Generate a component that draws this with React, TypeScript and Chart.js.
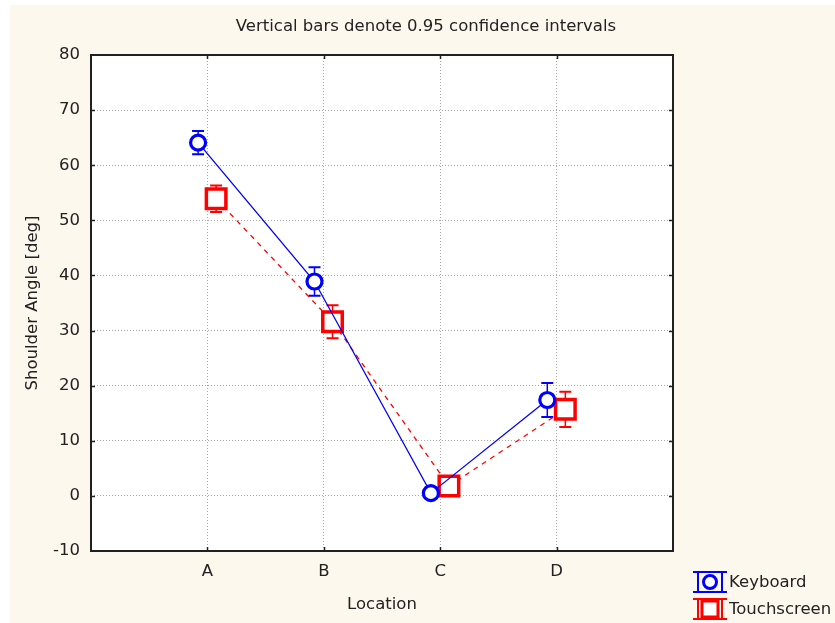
import React, { useEffect, useRef } from 'react';
import { Chart, registerables } from 'chart.js';

Chart.register(...registerables);

const categories = ['A', 'B', 'C', 'D'];
const keyboardMeans = [64.1, 38.9, 0.5, 17.4];
const keyboardCI = [2.1, 2.6, 1.0, 3.1];
const touchMeans = [53.9, 31.6, 1.8, 15.7];
const touchCI = [2.4, 3.0, 1.5, 3.2];
const yMin = -10;
const yMax = 80;
const yStep = 10;
const seriesNames = ['Keyboard', 'Touchscreen'];
const titleText = 'Vertical bars denote 0.95 confidence intervals';
const xTitle = 'Location';
const yTitle = 'Shoulder Angle [deg]';

const FONT = '"DejaVu Sans", Verdana, sans-serif';
const FS = 16.5;
const CREAM = '#fdf8ee';
const TEXT = '#222222';
const BLUE = '#0000ff';
const RED = '#ff0000';

const KB_OFF = -0.08;
const TS_OFF = 0.075;

function drawIcon(ctx: CanvasRenderingContext2D, cx: number, cy: number, color: string, kind: 'circle' | 'rect') {
  ctx.save();
  ctx.strokeStyle = color;
  ctx.lineWidth = 2;
  const half = 17;
  const hh = 10;
  ctx.beginPath();
  ctx.moveTo(cx - half, cy - hh);
  ctx.lineTo(cx + half, cy - hh);
  ctx.moveTo(cx - half, cy + hh);
  ctx.lineTo(cx + half, cy + hh);
  ctx.moveTo(cx - half + 5, cy - hh);
  ctx.lineTo(cx - half + 5, cy + hh);
  ctx.moveTo(cx + half - 5, cy - hh);
  ctx.lineTo(cx + half - 5, cy + hh);
  ctx.stroke();
  ctx.fillStyle = '#ffffff';
  ctx.lineWidth = 3;
  ctx.beginPath();
  if (kind === 'circle') {
    ctx.arc(cx, cy, 6.5, 0, Math.PI * 2);
  } else {
    ctx.rect(cx - 8, cy - 8, 16, 16);
  }
  ctx.fill();
  ctx.stroke();
  ctx.restore();
}

const decorPlugin = {
  id: 'decor',
  beforeDraw(chart: any) {
    const { ctx, chartArea: a, width, height } = chart;
    ctx.save();
    ctx.fillStyle = '#ffffff';
    ctx.fillRect(0, 0, width, height);
    ctx.fillStyle = CREAM;
    ctx.fillRect(10, 5, width - 10, height - 5);
    ctx.fillStyle = '#ffffff';
    ctx.fillRect(a.left, a.top, a.right - a.left, a.bottom - a.top);
    ctx.restore();
  },
  beforeDatasetsDraw(chart: any) {
    const { ctx } = chart;
    const xs = chart.scales.x;
    const ys = chart.scales.y;
    const groups = [
      { means: keyboardMeans, ci: keyboardCI, off: KB_OFF, color: BLUE },
      { means: touchMeans, ci: touchCI, off: TS_OFF, color: RED },
    ];
    ctx.save();
    groups.forEach((g) => {
      ctx.strokeStyle = g.color;
      g.means.forEach((m, i) => {
        const x = xs.getPixelForValue(i + 1 + g.off);
        const yt = ys.getPixelForValue(m + g.ci[i]);
        const yb = ys.getPixelForValue(m - g.ci[i]);
        ctx.lineWidth = 1.5;
        ctx.beginPath();
        ctx.moveTo(x, yt);
        ctx.lineTo(x, yb);
        ctx.stroke();
        ctx.lineWidth = 2;
        ctx.beginPath();
        ctx.moveTo(x - 6, yt);
        ctx.lineTo(x + 6, yt);
        ctx.moveTo(x - 6, yb);
        ctx.lineTo(x + 6, yb);
        ctx.stroke();
      });
    });
    ctx.restore();
  },
  afterDraw(chart: any) {
    const { ctx, chartArea: a } = chart;
    const xs = chart.scales.x;
    const ys = chart.scales.y;
    ctx.save();
    ctx.strokeStyle = '#202020';
    ctx.lineWidth = 2;
    ctx.strokeRect(a.left, a.top, a.right - a.left, a.bottom - a.top);
    ctx.lineWidth = 1.5;
    ctx.beginPath();
    for (let v = yMin + yStep; v < yMax; v += yStep) {
      const y = Math.round(ys.getPixelForValue(v)) + 0.5;
      ctx.moveTo(a.left, y);
      ctx.lineTo(a.left + 4, y);
      ctx.moveTo(a.right, y);
      ctx.lineTo(a.right - 4, y);
    }
    categories.forEach((_, i) => {
      const x = Math.round(xs.getPixelForValue(i + 1)) + 0.5;
      ctx.moveTo(x, a.bottom);
      ctx.lineTo(x, a.bottom - 4);
      ctx.moveTo(x, a.top);
      ctx.lineTo(x, a.top + 4);
    });
    ctx.stroke();
    ctx.fillStyle = TEXT;
    ctx.font = `${FS}px ${FONT}`;
    ctx.textAlign = 'center';
    ctx.textBaseline = 'middle';
    ctx.fillText(titleText, 426, 27);
    ctx.fillText(xTitle, (a.left + a.right) / 2, 605);
    ctx.save();
    ctx.translate(33, (a.top + a.bottom) / 2);
    ctx.rotate(-Math.PI / 2);
    ctx.fillText(yTitle, 0, 0);
    ctx.restore();
    drawIcon(ctx, 710, 582, BLUE, 'circle');
    drawIcon(ctx, 710, 609, RED, 'rect');
    ctx.textAlign = 'left';
    ctx.fillText(seriesNames[0], 729, 583);
    ctx.fillText(seriesNames[1], 729, 610);
    ctx.restore();
  },
};

export default function App() {
  const ref = useRef<HTMLCanvasElement | null>(null);
  useEffect(() => {
    document.body.style.margin = '0';
    const canvas = ref.current!;
    const chart = new Chart(canvas, {
      type: 'line',
      data: {
        datasets: [
          {
            label: seriesNames[0],
            data: keyboardMeans.map((v, i) => ({ x: i + 1 + KB_OFF, y: v })),
            borderColor: BLUE,
            borderWidth: 1.3,
            pointStyle: 'circle',
            pointRadius: 7.5,
            pointBorderWidth: 3.2,
            pointBackgroundColor: '#ffffff',
            pointBorderColor: BLUE,
            fill: false,
            tension: 0,
          },
          {
            label: seriesNames[1],
            data: touchMeans.map((v, i) => ({ x: i + 1 + TS_OFF, y: v })),
            borderColor: RED,
            borderWidth: 1.3,
            borderDash: [5, 5],
            pointStyle: 'rect',
            pointRadius: 13.8,
            pointBorderWidth: 3.5,
            pointBackgroundColor: '#ffffff',
            pointBorderColor: RED,
            fill: false,
            tension: 0,
          },
        ],
      },
      options: {
        responsive: false,
        animation: false,
        devicePixelRatio: 1,
        layout: { padding: { left: 0, top: 55, right: 162, bottom: 0 } },
        plugins: {
          legend: { display: false },
          title: { display: false },
          tooltip: { enabled: false },
        },
        events: [],
        scales: {
          x: {
            type: 'linear',
            min: 0,
            max: categories.length + 1,
            afterFit: (s: any) => { s.height = 72; },
            ticks: {
              stepSize: 1,
              autoSkip: false,
              padding: 11,
              color: TEXT,
              font: { family: FONT, size: FS },
              callback: (v: any) => categories[Number(v) - 1] ?? '',
            },
            grid: {
              drawTicks: false,
              lineWidth: 1,
              color: (c: any) =>
                c.tick && (c.tick.value <= 0 || c.tick.value >= categories.length + 1)
                  ? 'rgba(0,0,0,0)'
                  : '#a8a8a8',
            },
            border: { display: false, dash: [1, 2] },
          },
          y: {
            type: 'linear',
            min: yMin,
            max: yMax,
            afterFit: (s: any) => { s.width = 91; },
            ticks: {
              stepSize: yStep,
              padding: 11,
              color: TEXT,
              font: { family: FONT, size: FS },
            },
            grid: {
              drawTicks: false,
              lineWidth: 1,
              color: (c: any) =>
                c.tick && (c.tick.value <= yMin || c.tick.value >= yMax) ? 'rgba(0,0,0,0)' : '#a8a8a8',
            },
            border: { display: false, dash: [1, 2] },
          },
        },
      },
      plugins: [decorPlugin],
    });
    return () => chart.destroy();
  }, []);
  return (
    <div style={{ position: 'absolute', left: 0, top: 0, width: 835, height: 623 }}>
      <canvas ref={ref} width={835} height={623} style={{ display: 'block' }} />
    </div>
  );
}
